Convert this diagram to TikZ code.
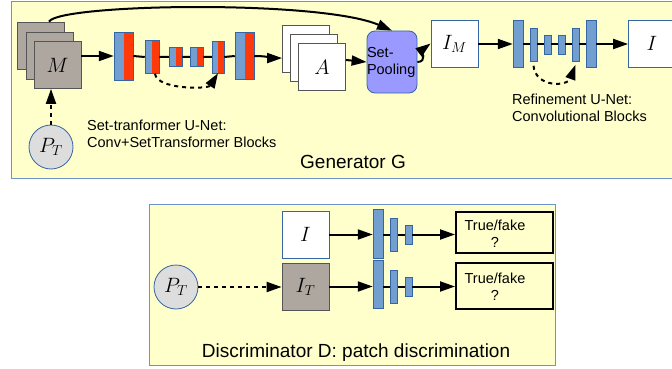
\documentclass[tikz,border=0pt]{standalone}
\usepackage{fontspec}
\setmainfont{Liberation Sans}
\usetikzlibrary{arrows.meta,calc}
\definecolor{bgyel}{HTML}{FFFFCC}
\definecolor{frameblue}{HTML}{7094C8}
\definecolor{sqgray}{HTML}{ADA7A0}
\definecolor{sqborder}{HTML}{555555}
\definecolor{blkblue}{HTML}{729FCF}
\definecolor{blkborder}{HTML}{3465A4}
\definecolor{blkred}{HTML}{FF3A0A}
\definecolor{poolfill}{HTML}{9999FF}
\definecolor{circfill}{HTML}{DDDDDD}
\newcommand\lblfont{\fontsize{14.5}{17}\selectfont}
\newcommand\ttlfont{\fontsize{19}{22}\selectfont}
\newcommand\mathfnt{\fontsize{21}{24}\selectfont}
\begin{document}
\begin{tikzpicture}[x=1pt,y=-1pt,
  panel/.style={draw=frameblue, fill=bgyel, line width=1pt},
  conn/.style={line width=2pt},
  arr/.style={conn, -{Triangle[length=15pt,width=10pt]}},
  darr/.style={arr, dash pattern=on 4pt off 4pt},
  gsq/.style={draw=sqborder, fill=sqgray, line width=0.8pt, minimum size=47pt, inner sep=0pt, font=\mathfnt},
  wsq/.style={draw=sqborder, fill=white, line width=0.8pt, minimum size=47pt, inner sep=0pt, font=\mathfnt},
  wbox/.style={draw=blkborder, fill=white, line width=0.8pt, minimum size=47pt, inner sep=0pt, font=\mathfnt},
  ub/.style={draw=blkborder, fill=blkblue, line width=0.5pt, inner sep=0pt,
    path picture={\fill[blkred] (path picture bounding box.south) rectangle (path picture bounding box.north east);}},
  rb/.style={draw=blkborder, fill=blkblue, line width=0.5pt, inner sep=0pt},
  circ/.style={circle, draw=blkborder, fill=circfill, line width=0.8pt, minimum size=44pt, inner sep=0pt, font=\mathfnt},
  spool/.style={draw=blkborder, fill=poolfill, line width=0.8pt, rounded corners=8pt, text width=50pt, align=left, inner sep=0pt, minimum height=62pt, font=\lblfont},
  tfbox/.style={draw=black, line width=2pt, minimum width=97pt, inner sep=0pt},
  lbl/.style={font=\lblfont, align=left, inner sep=0pt},
  ttl/.style={font=\ttlfont, inner sep=0pt}
]
\useasboundingbox (0,0) rectangle (672,369);
\clip (0,0) rectangle (672,369);
% panels
\draw[panel] (11,2) rectangle (690,178);
\draw[panel] (149,204) rectangle (555,365);
% M stack
\node[gsq] (msq1) at (41,45.5) {};
\node[gsq] (msq2) at (49.5,55.5) {};
\node[gsq] (msq3) at (57.5,65) {$M$};
% P_T generator
\node[circ] (pt1) at (51,147) {$P_T$};
% set-transformer U-Net blocks
\node[ub, minimum width=19pt, minimum height=48pt] (u1) at (123.5,56) {};
\node[ub, minimum width=14pt, minimum height=33pt] (u2) at (152,57) {};
\node[ub, minimum width=13pt, minimum height=19pt] (u3) at (175.5,57) {};
\node[ub, minimum width=13pt, minimum height=19pt] (u4) at (196.5,57) {};
\node[ub, minimum width=12pt, minimum height=32pt] (u5) at (218,57) {};
\node[ub, minimum width=19pt, minimum height=47pt] (u6) at (244.5,56) {};
% A stack
\node[wsq] (asq1) at (306,48.5) {};
\node[wsq] (asq2) at (314,58) {};
\node[wsq] (asq3) at (322,67) {$A$};
% set pooling
\node[spool] (sp) at (392,62) {Set-\\Pooling};
% I_M
\node[wbox] (im) at (454.5,43.5) {$I_M$};
% refinement blocks
\node[rb, minimum width=10pt, minimum height=47pt] (r1) at (518,44) {};
\node[rb, minimum width=7pt, minimum height=33pt] (r2) at (533.5,45) {};
\node[rb, minimum width=7pt, minimum height=19pt] (r3) at (547.5,45) {};
\node[rb, minimum width=7pt, minimum height=19pt] (r4) at (561.5,45) {};
\node[rb, minimum width=7pt, minimum height=33pt] (r5) at (575.5,45) {};
\node[rb, minimum width=10pt, minimum height=47pt] (r6) at (591,44) {};
\node[wbox] (ibox) at (652,43.5) {$I$};
% generator labels
\node[lbl, anchor=west] (stlbl) at (87,133.5) {Set-tranformer U-Net:\\Conv+SetTransformer Blocks};
\node[lbl, anchor=west] (rflbl) at (512,108) {Refinement U-Net:\\Convolutional Blocks};
\node[ttl, anchor=base] (gtitle) at (353,168) {Generator G};
% generator connectors
\draw[arr] (msq3.east |- u1.west) -- (u1.west);
\draw[conn] (u1.east) -- (u2.west) (u2.east) -- (u3.west) (u3.east) -- (u4.west) (u4.east) -- (u5.west) (u5.east) -- (u6.west);
\draw[darr] ([xshift=3pt]u2.south) .. controls +(2,16) and +(-10,16) .. (u5.south);
\draw[arr] (u6.east) .. controls +(14,0) and +(-10,0) .. ($(asq1.north west)!0.7!(asq1.south west)$);
\draw[arr] ([yshift=7pt]asq3.east) -- (sp.west);
\draw[arr] (sp.east) .. controls +(10,0) and +(-8,6) .. (im.west);
\draw[arr] ([xshift=8pt]msq1.north) .. controls +(11,-18) and +(-72,-31) .. (sp.north);
\draw[darr] (pt1.north) -- (pt1.north |- msq3.south);
\draw[arr] (im.east |- r1.west) -- (r1.west);
\draw[conn] (r1.east) -- (r2.west |- r1.east) (r2.east |- r1.east) -- (r3.west |- r1.east) (r3.east |- r1.east) -- (r4.west |- r1.east) (r4.east |- r1.east) -- (r5.west |- r1.east) (r5.east |- r1.east) -- (r6.west);
\draw[darr] ([yshift=-4pt]r2.south) .. controls +(2,22) and +(-8,22) .. ([yshift=-3pt]r5.south);
\draw[arr] (r6.east) -- (r6.east -| ibox.west);
% discriminator
\node[wbox] (ib) at (305.5,234.5) {$I$};
\node[gsq] (it) at (305.5,286.5) {$I_T$};
\node[circ] (pt2) at (176,287) {$P_T$};
\node[rb, minimum width=10pt, minimum height=49pt] (d1) at (378,234) {};
\node[rb, minimum width=7pt, minimum height=33pt] (d2) at (394,234.5) {};
\node[rb, minimum width=7pt, minimum height=19pt] (d3) at (408.5,234.5) {};
\node[rb, minimum width=10pt, minimum height=48pt] (d4) at (378,284.5) {};
\node[rb, minimum width=7pt, minimum height=33pt] (d5) at (394,286.5) {};
\node[rb, minimum width=7pt, minimum height=19pt] (d6) at (408.5,286.5) {};
\node[tfbox, minimum height=41pt] (tf1) at (504.5,232.5) {};
\node[tfbox, minimum height=46pt] (tf2) at (504.5,286) {};
\node[lbl, align=center] (tf1t) at (495,233.5) {True/fake\\?};
\node[lbl, align=center] (tf2t) at (495,287) {True/fake\\?};
\node[ttl, anchor=base] (dtitle) at (356,357) {Discriminator D: patch discrimination};
\draw[arr] (ib.east) -- (ib.east -| d1.west);
\draw[conn] (d1.east |- d2.west) -- (d2.west) (d2.east) -- (d3.west);
\draw[arr] (d3.east) -- (d3.east -| tf1.west);
\draw[darr] (pt2.east) -- (pt2.east -| it.west);
\draw[arr] (it.east) -- (it.east -| d4.west);
\draw[conn] (d4.east |- d5.west) -- (d5.west) (d5.east) -- (d6.west);
\draw[arr] (d6.east) -- (d6.east -| tf2.west);
\end{tikzpicture}
\end{document}
